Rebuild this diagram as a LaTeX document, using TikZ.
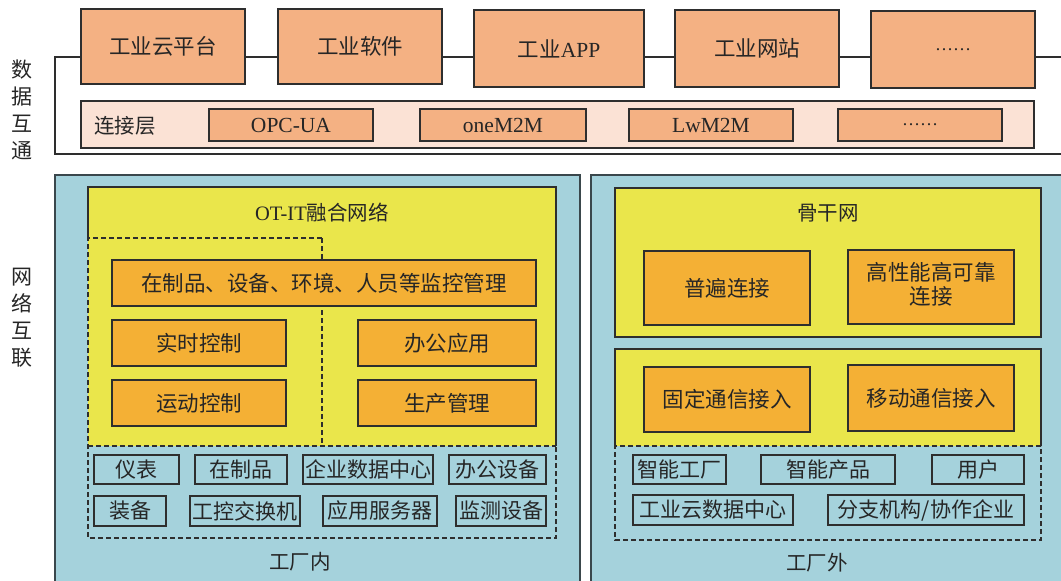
\documentclass[tikz,border=0pt]{standalone}
\usepackage{fontspec}
\setmainfont{Liberation Serif}
\newfontfamily\cjk{Noto Sans CJK SC}
\definecolor{peach}{HTML}{F4B183}
\definecolor{pale}{HTML}{FBE2D5}
\definecolor{pblue}{HTML}{A5D2DC}
\definecolor{ylw}{HTML}{EAE64B}
\definecolor{orng}{HTML}{F4B035}
\definecolor{bd}{HTML}{2E2E2E}
\definecolor{pbd}{HTML}{3A474C}
\definecolor{txt}{HTML}{262626}
\newcommand\mybox[7]{\node[#6, minimum width={#4-#2}, minimum height={#5-#3}] (#1) at ({(#2+#4)/2},{(#3+#5)/2}) {#7};}
\begin{document}
\begin{tikzpicture}[x=1pt,y=-1pt,
  base/.style={font=\fontsize{21.5}{25}\selectfont\cjk, text=txt, inner sep=0pt, outer sep=0pt},
  topbox/.style={base, draw=bd, fill=peach, line width=1.1pt},
  layer/.style={base, draw=bd, fill=pale, line width=1.1pt},
  obox/.style={base, draw=bd, fill=orng, line width=1.1pt},
  ybox/.style={base, draw=bd, fill=ylw, line width=1.1pt},
  dev/.style={base, draw=bd, fill=pblue, line width=1.1pt, font=\fontsize{21}{25}\selectfont\cjk},
  lbl/.style={base, font=\fontsize{20.5}{25}\selectfont\cjk},
  vlbl/.style={base, align=center, font=\fontsize{21}{27}\selectfont\cjk},
  frame/.style={draw=bd, line width=1.1pt},
  panelb/.style={draw=pbd, line width=1.6pt},
  dsh/.style={draw=bd, line width=1.1pt, dash pattern=on 5pt off 3pt}]
\useasboundingbox (0,0) rectangle (1061,581);

% ---------- data interworking ----------
\coordinate (fl) at (55,57);
\coordinate (fb) at (55,154);
\mybox{t1}{81}{9}{245}{84}{topbox}{工业云平台}
\mybox{t2}{278}{9}{442}{84}{topbox}{工业软件}
\mybox{t3}{474}{10}{644}{87}{topbox}{工业{\rmfamily APP}}
\mybox{t4}{675}{10}{839}{87}{topbox}{工业网站}
\mybox{t5}{871}{11}{1035}{88}{topbox}{\rmfamily\fontsize{18}{20}\selectfont ……}
\coordinate (fr) at (1061,57);
\coordinate (fbr) at (1061,154);
\draw[frame] (t1.west |- fl) -- (fl) -- (fb) -- (fbr);
\draw[frame] (t1.east |- fl) -- (t2.west |- fl);
\draw[frame] (t2.east |- fl) -- (t3.west |- fl);
\draw[frame] (t3.east |- fl) -- (t4.west |- fl);
\draw[frame] (t4.east |- fl) -- (t5.west |- fl);
\draw[frame] (t5.east |- fl) -- (fr);

\mybox{cl}{81}{101}{1034}{148}{layer}{}
\node[lbl] (cll) at (125,126) {连接层};
\mybox{p1}{209}{109}{373}{141}{topbox}{\rmfamily OPC-UA}
\mybox{p2}{420}{109}{586}{141}{topbox}{\rmfamily oneM2M}
\mybox{p3}{629}{109}{793}{141}{topbox}{\rmfamily LwM2M}
\mybox{p4}{838}{109}{1002}{141}{topbox}{\rmfamily\fontsize{18}{20}\selectfont ……}

\node[vlbl] (v1) at (22,110) {数\\据\\互\\通};
\node[vlbl] (v2) at (22,318) {网\\络\\互\\联};

% ---------- inside factory ----------
\fill[pblue] (55,175) rectangle (580,581);
\draw[panelb] (55,581) -- (55,175) -- (580,175) -- (580,581);
\fill[ylw] (88,187) rectangle (556,446);
\draw[frame] (88,238) -- (88,187) -- (556,187) -- (556,446);
\draw[dsh] (322,238) -- (88,238) -- (88,538) -- (556,538) -- (556,446);
\draw[dsh] (88,446) -- (556,446);
\draw[dsh] (322,238) -- (322,446);
\node[lbl] (otit) at (322,213) {{\rmfamily OT-IT}融合网络};

\mybox{m1}{112}{260}{536}{306}{obox}{在制品、设备、环境、人员等监控管理}
\mybox{m2}{112}{320}{286}{366}{obox}{实时控制}
\mybox{m3}{112}{380}{286}{426}{obox}{运动控制}
\mybox{m4}{358}{320}{536}{366}{obox}{办公应用}
\mybox{m5}{358}{380}{536}{426}{obox}{生产管理}

\mybox{d1}{94}{455}{179}{484}{dev}{仪表}
\mybox{d2}{195}{455}{287}{484}{dev}{在制品}
\mybox{d3}{303}{455}{433}{484}{dev}{企业数据中心}
\mybox{d4}{449}{455}{546}{484}{dev}{办公设备}
\mybox{d5}{94}{496}{166}{526}{dev}{装备}
\mybox{d6}{190}{496}{300}{526}{dev}{工控交换机}
\mybox{d7}{323}{496}{437}{526}{dev}{应用服务器}
\mybox{d8}{456}{496}{546}{526}{dev}{监测设备}
\node[lbl] (inl) at (300,562) {工厂内};

% ---------- outside factory ----------
\fill[pblue] (591,175) rectangle (1061,581);
\draw[panelb] (591,581) -- (591,175) -- (1061,175);
\mybox{bb}{615}{188}{1041}{337}{ybox}{}
\node[lbl] (bbt) at (828,213) {骨干网};
\mybox{b1}{644}{251}{810}{325}{obox}{普遍连接}
\mybox{b2}{848}{250}{1014}{324}{obox}{\begin{tabular}{@{}c@{}}高性能高可靠\\[-1pt]连接\end{tabular}}
\fill[ylw] (615,349) rectangle (1041,446);
\draw[frame] (615,446) -- (615,349) -- (1041,349) -- (1041,446);
\draw[dsh] (1041,446) -- (615,446) -- (615,540) -- (1041,540) -- cycle;
\mybox{a1}{644}{367}{810}{432}{obox}{固定通信接入}
\mybox{a2}{848}{365}{1014}{431}{obox}{移动通信接入}

\mybox{e1}{633}{455}{726}{484}{dev}{智能工厂}
\mybox{e2}{761}{455}{895}{484}{dev}{智能产品}
\mybox{e3}{932}{455}{1024}{484}{dev}{用户}
\mybox{e4}{633}{495}{793}{525}{dev}{工业云数据中心}
\mybox{e5}{828}{495}{1024}{525}{dev}{分支机构/协作企业}
\node[lbl] (outl) at (817,563) {工厂外};
\end{tikzpicture}
\end{document}
